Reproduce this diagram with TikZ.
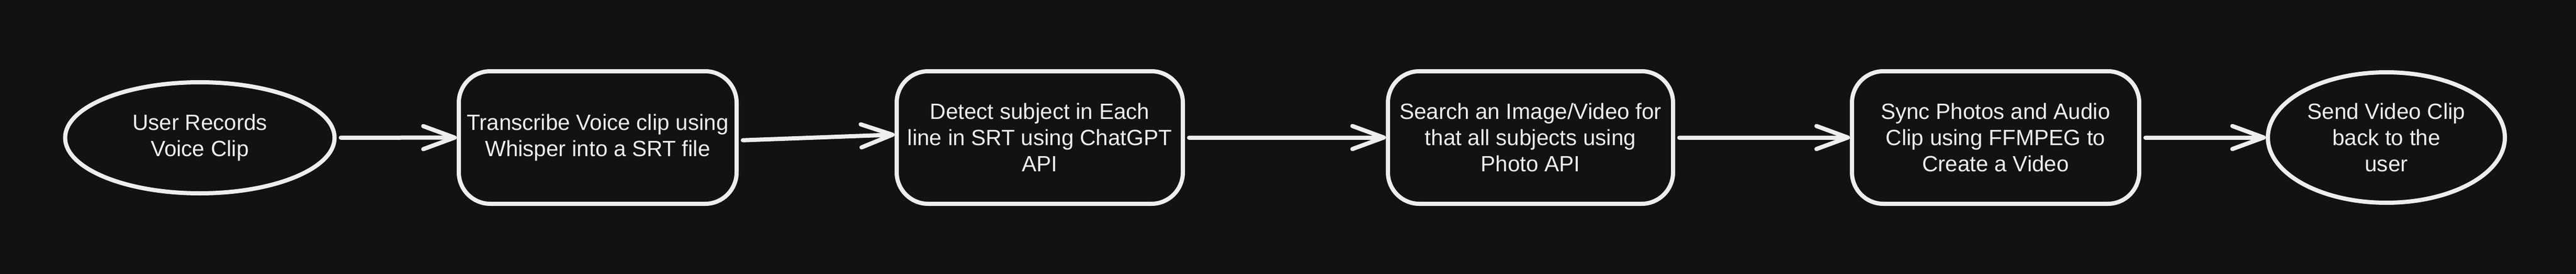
\documentclass[tikz,border=0pt]{standalone}
\usepackage{fontspec}
\setmainfont{Liberation Sans}
\usepackage{xcolor}
\definecolor{bgdark}{HTML}{121212}
\definecolor{chalk}{HTML}{EEEEEE}
\usetikzlibrary{arrows.meta, shapes.geometric}
\tikzset{>={Straight Barb[length=6mm, width=4.4mm, round]}}
\tikzset{
  stepbox/.style={draw=chalk, line width=0.08cm, rounded corners=0.6cm,
    minimum width=5.47cm, minimum height=2.53cm, inner sep=0pt,
    align=center, text=chalk, font=\fontsize{12}{14.2}\selectfont},
  endpoint/.style={draw=chalk, line width=0.08cm, ellipse, inner sep=0pt,
    align=center, text=chalk, font=\fontsize{12}{14.2}\selectfont},
  flow/.style={draw=chalk, line width=0.08cm, line cap=round, shorten <=0.08cm, ->}
}

\begin{document}
\begin{tikzpicture}

% Dark canvas
\useasboundingbox (0,0) rectangle (49.24,5.22);
\fill[bgdark] (-0.2,-0.2) rectangle (49.44,5.42);

% Start of the pipeline
\node[endpoint, minimum width=5.15cm, minimum height=2.12cm] (record) at (3.82,2.59) {User Records\\Voice Clip};

% Processing steps
\node[stepbox, minimum width=5.31cm] (transcribe) at (11.425,2.595) {Transcribe Voice clip using\\Whisper into a SRT file};
\node[stepbox] (detect) at (19.875,2.595) {Detect subject in Each\\line in SRT using ChatGPT\\API};
\node[stepbox, minimum width=5.45cm] (search) at (29.255,2.595) {Search an Image/Video for\\that all subjects using\\Photo API};
\node[stepbox, minimum width=5.49cm] (sync) at (38.145,2.595) {Sync Photos and Audio\\Clip using FFMPEG to\\Create a Video};

% End of the pipeline
\node[endpoint, minimum width=4.53cm, minimum height=2.49cm] (send) at (45.615,2.595) {Send Video Clip\\back to the\\user};

% Connectors
\draw[flow] (record) -- (transcribe);
\draw[flow] ([yshift=-0.055cm]transcribe.east) -- ([yshift=0.055cm]detect.west);
\draw[flow] (detect) -- (search);
\draw[flow] (search) -- (sync);
\draw[flow] (sync) -- (send);

\end{tikzpicture}
\end{document}
